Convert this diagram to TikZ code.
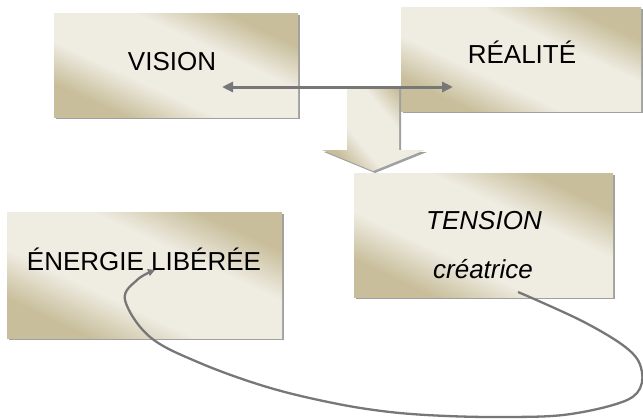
\documentclass[tikz,border=0pt]{standalone}
\usepackage{fontspec}
\setmainfont{Liberation Sans}
\usetikzlibrary{arrows.meta,shadows}
\definecolor{bTan}{HTML}{C8BE9B}
\definecolor{bLight}{HTML}{EFECE2}
\definecolor{shadowgray}{HTML}{A0A0A0}
\definecolor{linegray}{HTML}{777777}
\pgfdeclarehorizontalshading{beigesh}{100bp}{color(0bp)=(bTan); color(27bp)=(bTan); color(40bp)=(bLight); color(60bp)=(bLight); color(73bp)=(bTan); color(100bp)=(bTan)}
\begin{document}
\begin{tikzpicture}[x=1pt,y=-1pt,
  box/.style={draw=none, shading=beigesh, shading angle=65, inner sep=0pt, outer sep=0pt,
    drop shadow={shadow xshift=2pt, shadow yshift=-2pt, fill=shadowgray, opacity=1}},
  lbl/.style={anchor=base, inner sep=0pt, font=\fontsize{26}{30}\selectfont, text=black},
  ilbl/.style={lbl, font=\fontsize{26}{30}\selectfont\itshape},
  dbl/.style={draw=linegray, line width=3pt, {Triangle[length=11pt,width=10pt]}-{Triangle[length=11pt,width=10pt]}},
  loopline/.style={draw=linegray, line width=2.3pt, -{Triangle[length=7pt,width=7pt]}}
]
\useasboundingbox (0,0) rectangle (643,418);

% boxes
\node[box, minimum width=244pt, minimum height=104pt] (vision) at (176,65) {};
\node[box, minimum width=240pt, minimum height=104pt] (realite) at (521,59) {};
\node[box, minimum width=259pt, minimum height=124pt] (tension) at (483.5,235) {};
\node[box, minimum width=275pt, minimum height=126pt] (energie) at (144.5,275) {};

% big down arrow
\path[shading=beigesh, shading angle=40,
  drop shadow={shadow xshift=2pt, shadow yshift=-2pt, fill=shadowgray, opacity=1}]
  (347,87) -- (399,87) -- (399,150) -- (425,150) -- (373,171) -- (322,150) -- (347,150) -- cycle;

% labels
\node[lbl] (tvision) at (172,70) {VISION};
\node[lbl] (trealite) at (522,63) {RÉALITÉ};
\node[lbl] (tenergie) at (144,270) {ÉNERGIE LIBÉRÉE};
\node[ilbl] (ttension) at (484,229) {TENSION};
\node[ilbl] (tcreatrice) at (483,278) {créatrice};

% double arrow
\coordinate (va) at (222,87);
\coordinate (ra) at (453,87);
\draw[dbl] (va) -- (ra);

% loop arrow
\coordinate (cs) at (518,292);
\coordinate (ce) at (155,270);
\draw[loopline] plot[smooth, tension=0.6] coordinates {(cs) (584,322) (629,350) (642,372) (637,393) (613,405) (563,415) (507,417) (447,416) (390,412) (333,403) (267,387) (200,363) (150,337) (125,300) (137,280) (ce)};
\end{tikzpicture}
\end{document}
